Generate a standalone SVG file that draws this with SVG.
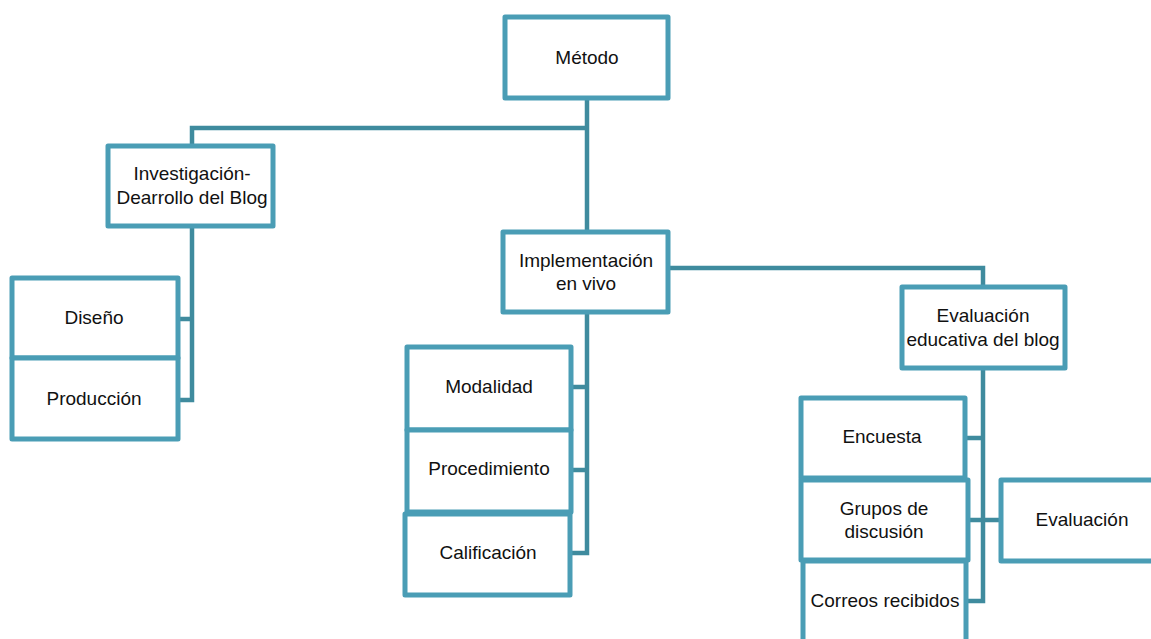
<svg xmlns="http://www.w3.org/2000/svg" width="1151" height="639" viewBox="0 0 1151 639">
<style>
.box{fill:#fff;stroke:#4a9db5;stroke-width:5;stroke-linejoin:round}
.con{fill:none;stroke:#3f8b9e;stroke-width:4.5}
.t{font-family:"Liberation Sans",Arial,sans-serif;font-size:19px;fill:#111;text-anchor:middle}
</style>
<rect width="1151" height="639" fill="#fff"/>
<g id="connectors">
<path class="con" d="M587,98 V232"/>
<path class="con" d="M587,128 H192 V146"/>
<path class="con" d="M192,226 V400 H178 M192,319 H178"/>
<path class="con" d="M668,268 H983 V287"/>
<path class="con" d="M587,312 V553 H571 M587,387 H571 M587,470 H571"/>
<path class="con" d="M983,368 V601 H966 M983,438 H965 M968,520 H1001"/>
</g>
<g id="metodo"><rect class="box" x="505" y="17" width="163" height="81"/><text class="t" x="587" y="64">Método</text></g>
<g id="investigacion"><rect class="box" x="108" y="146" width="165" height="80"/><text class="t" x="192" y="180">Investigación-</text><text class="t" x="192" y="204">Dearrollo del Blog</text></g>
<g id="diseno"><rect class="box" x="12" y="278" width="166" height="80"/><text class="t" x="94" y="324">Diseño</text></g>
<g id="produccion"><rect class="box" x="12" y="358" width="166" height="81"/><text class="t" x="94" y="405">Producción</text></g>
<g id="implementacion"><rect class="box" x="503" y="232" width="165" height="80"/><text class="t" x="586" y="267">Implementación</text><text class="t" x="586" y="290">en vivo</text></g>
<g id="modalidad"><rect class="box" x="407" y="347" width="164" height="83"/><text class="t" x="489" y="393">Modalidad</text></g>
<g id="procedimiento"><rect class="box" x="407" y="430" width="164" height="82"/><text class="t" x="489" y="475">Procedimiento</text></g>
<g id="calificacion"><rect class="box" x="405" y="514" width="165" height="81"/><text class="t" x="488" y="559">Calificación</text></g>
<g id="evaluacion-educativa"><rect class="box" x="902" y="287" width="163" height="81"/><text class="t" x="983" y="322">Evaluación</text><text class="t" x="983" y="346">educativa del blog</text></g>
<g id="encuesta"><rect class="box" x="801" y="398" width="164" height="80"/><text class="t" x="882" y="443">Encuesta</text></g>
<g id="grupos"><rect class="box" x="801" y="480" width="167" height="80"/><text class="t" x="884" y="515">Grupos de</text><text class="t" x="884" y="538">discusión</text></g>
<g id="correos"><rect class="box" x="803" y="561" width="163" height="110"/><text class="t" x="885" y="607">Correos recibidos</text></g>
<g id="evaluacion"><rect class="box" x="1001" y="480" width="180" height="81"/><text class="t" x="1082" y="526">Evaluación</text></g>
</svg>
